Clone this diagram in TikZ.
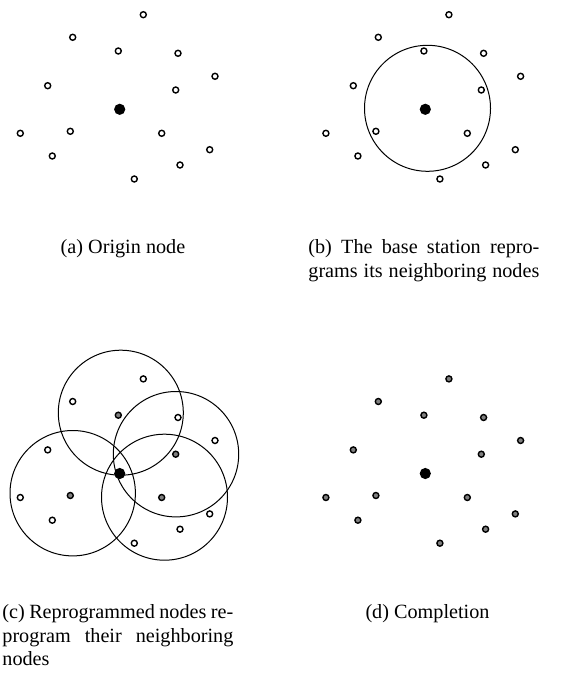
\documentclass[tikz,border=0pt]{standalone}
\usepackage{fontspec}
\setmainfont{Liberation Serif}
\usetikzlibrary{calc,backgrounds}

% node positions relative to the base station, with the state each node has
% after the first round of reprogramming
\def\netlist{23.6/-94.6/sensoridle, -47/-72/sensoridle, -1.4/-58.3/sensordone, 58.3/-56/sensoridle,
  95.3/-33/sensoridle, -72/-23.6/sensoridle, 56/-19.3/sensordone, -99.4/24/sensoridle,
  -49.4/22/sensordone, 42/24/sensordone, 90/40.4/sensoridle, -67.4/46.7/sensoridle,
  60.3/55.7/sensoridle, 14.6/69.7/sensoridle}
\newlength{\capw}
\setlength{\capw}{115.5pt}
% a justified caption line: words spread over the full caption width
\newcommand{\jline}[1]{\leavevmode\hbox to \capw{#1}}
% interword gap of a justified line: may grow freely or shrink a little
\newcommand{\jgap}{\hskip .25em plus 1fil minus .12em\relax}

\begin{document}
\begin{tikzpicture}[x=0.5pt,y=-0.5pt,
  sensoridle/.style={circle,draw=black,line width=0.7pt,fill=white,inner sep=0pt,minimum size=3pt},
  sensordone/.style={sensoridle,fill=black!50},
  station/.style={circle,fill=black,inner sep=0pt,minimum size=5.6pt},
  radiorange/.style={draw=black,line width=0.5pt},
  capstyle/.style={inner sep=0pt,font=\fontsize{10.1pt}{11.8pt}\selectfont}]
\useasboundingbox (0,0) rectangle (562,678);

% (a) all nodes waiting
\begin{scope}[shift={(119.7,109.3)}]
  \node[station] (a0) at (0,0) {};
  \foreach [count=\i] \x/\y/\s in \netlist
    \node[sensoridle] (a\i) at (\x,\y) {};
\end{scope}

% (b) base station reaches its one-hop neighbours
\begin{scope}[shift={(425.3,109.3)}]
  \node[station] (b0) at (0,0) {};
  \foreach [count=\i] \x/\y/\s in \netlist
    \node[sensoridle] (b\i) at (\x,\y) {};
\end{scope}
\begin{scope}[on background layer]
  \draw[radiorange] ($(b0)+(2.2,-1)$) circle[radius=63];
\end{scope}

% (c) reprogrammed nodes forward the image
\begin{scope}[shift={(119.7,473.5)}]
  \node[station] (c0) at (0,0) {};
  \foreach [count=\i] \x/\y/\s in \netlist
    \node[\s] (c\i) at (\x,\y) {};
\end{scope}
\begin{scope}[on background layer]
  \draw[radiorange] ($(c3)+(2.5,-2.5)$) circle[radius=62.5];
  \draw[radiorange] ($(c7)+(0.3,0)$) circle[radius=62.7];
  \draw[radiorange] ($(c9)+(2.4,-2.3)$) circle[radius=62.7];
  \draw[radiorange] ($(c10)+(2.8,-0.3)$) circle[radius=63];
\end{scope}

% (d) every node reprogrammed
\begin{scope}[shift={(425.3,473.5)}]
  \node[station] (d0) at (0,0) {};
  \foreach [count=\i] \x/\y/\s in \netlist
    \node[sensordone] (d\i) at (\x,\y) {};
\end{scope}

% captions
\node[capstyle,anchor=base] (capa) at (123,253.5) {(a) Origin node};
\node[capstyle,anchor=base west,text width=\capw,align=left] (capb) at (308,253.5)
  {\jline{(b)\jgap The\jgap base\jgap station\jgap repro-}\\
   \jline{grams\jgap its\jgap neighboring\jgap nodes}};
\node[capstyle,anchor=base west,text width=\capw,align=left] (capc) at (2,618.5)
  {\jline{(c)\jgap Reprogrammed\jgap nodes\jgap re-}\\
   \jline{program\jgap their\jgap neighboring}\\nodes};
\node[capstyle,anchor=base] (capd) at (427.5,618.5) {(d) Completion};
\end{tikzpicture}
\end{document}
